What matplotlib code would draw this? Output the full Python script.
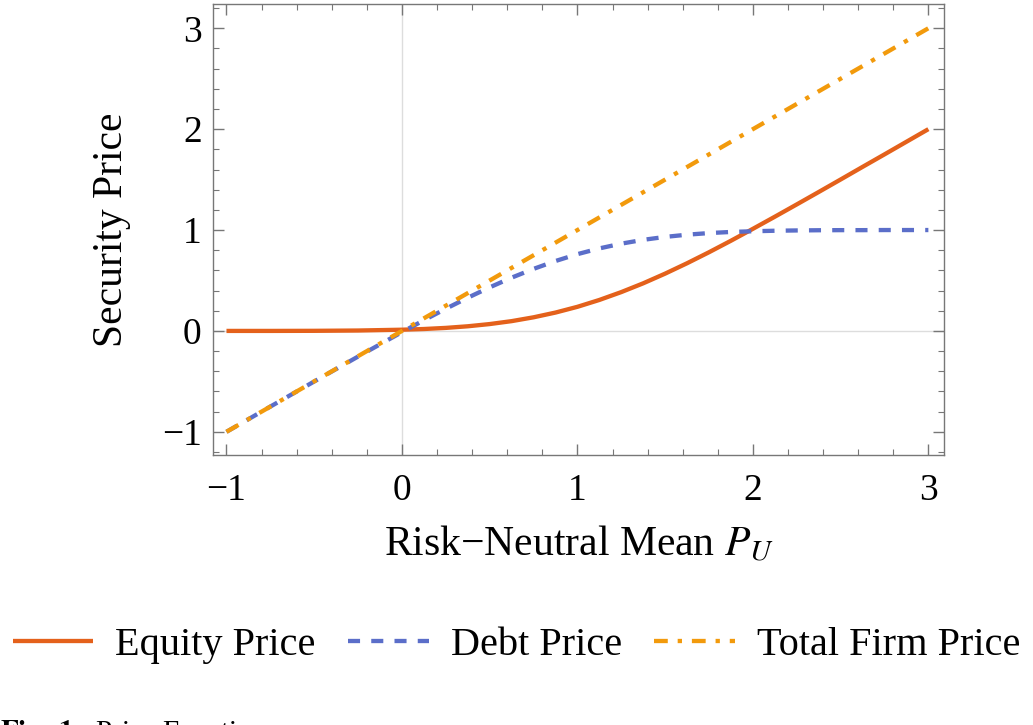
import matplotlib
matplotlib.use("Agg")
import matplotlib.pyplot as plt
from matplotlib.ticker import MultipleLocator

plt.rcParams["font.family"] = ["Liberation Serif", "DejaVu Serif"]
plt.rcParams["mathtext.fontset"] = "stix"

# values
mean_pu = [-1, -0.75, -0.5, -0.25, 0, 0.125, 0.25, 0.375, 0.5, 0.625, 0.75, 0.875, 1,
           1.125, 1.25, 1.375, 1.5, 1.625, 1.75, 1.875, 2, 2.125, 2.25, 2.375, 2.5,
           2.625, 2.75, 2.875, 3]
equity = [0.000, 0.000, 0.001, 0.004, 0.012, 0.019, 0.030, 0.046, 0.068, 0.097, 0.135,
          0.182, 0.239, 0.307, 0.385, 0.472, 0.568, 0.671, 0.780, 0.894, 1.012, 1.132,
          1.254, 1.377, 1.501, 1.626, 1.750, 1.875, 2.000]
debt = [-1.000, -0.750, -0.501, -0.254, -0.012, 0.106, 0.220, 0.329, 0.432, 0.528, 0.615,
        0.693, 0.761, 0.818, 0.865, 0.903, 0.932, 0.954, 0.970, 0.981, 0.988, 0.993,
        0.996, 0.998, 0.999, 0.999, 1.000, 1.000, 1.000]
total_x = [-1, 3]
total = [-1, 3]

fig = plt.figure(figsize=(10.33, 7.25), dpi=100)
ax = fig.add_axes([0.206, 0.3724, 0.708, 0.622])

ax.axhline(0, color="#dddddd", lw=1, zorder=0)
ax.axvline(0, color="#dddddd", lw=1, zorder=0)

l1, = ax.plot(mean_pu, equity, color="#e4611b", lw=3.1, solid_capstyle="butt",
              label="Equity Price")
l2, = ax.plot(mean_pu, debt, color="#5b6ec9", lw=3.1, dashes=(2.8, 2.6),
              dash_capstyle="butt", label="Debt Price")
l3, = ax.plot(total_x, total, color="#f29a0c", lw=3.1, dashes=(3.2, 2.3, 1.0, 2.3),
              dash_capstyle="butt", label="Total Firm Price")

ax.set_xlim(-1.078, 3.09)
ax.set_ylim(-1.23, 3.24)
ax.set_xticks([-1, 0, 1, 2, 3])
ax.set_yticks([-1, 0, 1, 2, 3])
ax.set_xticklabels(["\u22121", "0", "1", "2", "3"])
ax.set_yticklabels(["\u22121", "0", "1", "2", "3"])
ax.xaxis.set_minor_locator(MultipleLocator(0.2))
ax.yaxis.set_minor_locator(MultipleLocator(0.2))
ax.tick_params(which="both", direction="in", top=True, right=True, color="#777777",
               labelsize=27)
ax.tick_params(which="major", length=8, width=1)
ax.tick_params(which="minor", length=4.5, width=0.8)
ax.tick_params(axis="x", which="major", pad=13)
ax.tick_params(axis="y", which="major", pad=8)
for s in ax.spines.values():
    s.set_color("#777777")
    s.set_linewidth(1)

ax.set_xlabel("Risk\u2212Neutral Mean $P_U$", fontsize=30, labelpad=12)
ax.set_ylabel("Security Price", fontsize=30, labelpad=22)

fig.legend(handles=[l1, l2, l3], loc="center", bbox_to_anchor=(0.5, 0.11), ncol=3,
           frameon=False, fontsize=29, handlelength=2.0, columnspacing=0.8,
           handletextpad=0.55, borderpad=0.1, borderaxespad=0.0)

fig.text(0.0, 0.01, r"$\bf{Fig.\ 1}$   Price Function", fontsize=21, va="top")

fig.savefig("out.png", dpi=100)
